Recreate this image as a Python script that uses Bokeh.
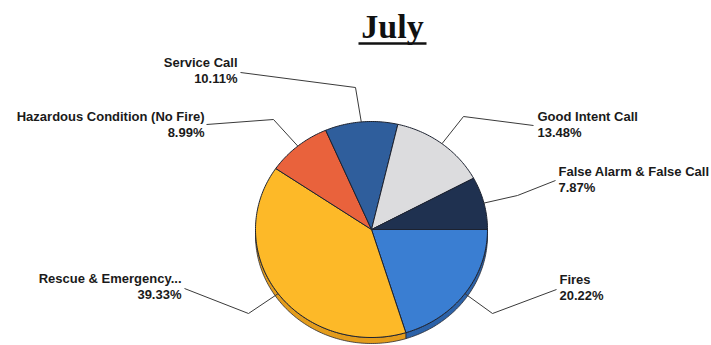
import math
from bokeh.plotting import figure
from bokeh.models import Range1d, ColumnDataSource
from bokeh.core.properties import value
from bokeh.embed import file_html
from bokeh.resources import INLINE

# ---- data ----
title = "July"
categories = ["Fires", "Rescue & Emergency...", "Hazardous Condition (No Fire)",
              "Service Call", "Good Intent Call", "False Alarm & False Call"]
percents = [20.22, 39.33, 8.99, 10.11, 13.48, 7.87]

# ---- styles ----
top_colors = ["#3A7ED2", "#FDB928", "#E9623C", "#2F5E9C", "#DCDCDE", "#1F3150"]
side_colors = ["#2C62A8", "#E39C1C", "#C24A2A", "#24487A", "#AAAAAC", "#152238"]

# ---- layout (screen-like coordinates, y down) ----
CX, CY, RX, RY, DEPTH = 371, 229, 116, 108, 6
# per category: (label anchor x, name y, pct y, align, line start, elbow)
label_layout = [
    (559, 279, 295, "left", (556, 289), (492, 313)),
    (181, 278, 294, "right", (184, 288), (248, 313)),
    (204, 116, 132, "right", (206, 124), (273, 119)),
    (237, 62, 78, "right", (240, 72), (355, 87)),
    (537, 116, 132, "left", (533, 125), (463, 116)),
    (558, 171, 187, "left", (555, 180), (517, 195)),
]

p = figure(width=711, height=345, x_range=Range1d(0, 711), y_range=Range1d(345, 0),
           output_backend="svg", toolbar_location=None, min_border=0)
p.axis.visible = False
p.grid.visible = False
p.outline_line_color = None
p.background_fill_color = "white"
p.border_fill_color = "white"


def arc_pts(a0, a1, dy=0.0, step=1.0):
    n = max(2, int(abs(a1 - a0) / step) + 1)
    xs, ys = [], []
    for i in range(n + 1):
        a = math.radians(a0 + (a1 - a0) * i / n)
        xs.append(CX + RX * math.cos(a))
        ys.append(CY - RY * math.sin(a) + dy)
    return xs, ys


starts, ends = [], []
acc = 0.0
for v in percents:
    starts.append(acc)
    acc -= v / 100.0 * 360.0
    ends.append(acc)

# side (visible lower half only)
side_xs, side_ys, side_cols = [], [], []
for a0, a1, c in zip(starts, ends, side_colors):
    hi = min(a0, 0.0)
    lo = max(a1, -180.0)
    if lo < hi:
        x1, y1 = arc_pts(hi, lo)
        x2, y2 = arc_pts(lo, hi, dy=DEPTH)
        side_xs.append(x1 + x2)
        side_ys.append(y1 + y2)
        side_cols.append(c)
p.patches(side_xs, side_ys, fill_color=side_cols, line_color="#2a2a30", line_width=0.8)

# top faces
top_xs, top_ys = [], []
for a0, a1 in zip(starts, ends):
    xs, ys = arc_pts(a0, a1)
    top_xs.append([CX] + xs)
    top_ys.append([CY] + ys)
p.patches(top_xs, top_ys, fill_color=top_colors, line_color="#1c2230", line_width=1)

# leader lines
lx, ly = [], []
for (a0, a1), lay in zip(zip(starts, ends), label_layout):
    mid = math.radians((a0 + a1) / 2.0)
    ax = CX + RX * math.cos(mid)
    ay = CY - RY * math.sin(mid)
    (sx, sy), (ex, ey) = lay[4], lay[5]
    lx.append([sx, ex, ax])
    ly.append([sy, ey, ay])
p.multi_line(lx, ly, line_color="#3a3a3a", line_width=1)

# labels
tx, ty, tt, ta = [], [], [], []
for cat, v, lay in zip(categories, percents, label_layout):
    x, yn, yp, al = lay[0], lay[1], lay[2], lay[3]
    tx += [x, x]
    ty += [yn, yp]
    tt += [cat, f"{v:.2f}%"]
    ta += [al, al]
src = ColumnDataSource(dict(x=tx, y=ty, text=tt, align=ta))
p.text(x="x", y="y", text="text", text_align="align", source=src,
       text_baseline="middle", text_font=value("Liberation Sans"),
       text_font_style="bold", text_font_size="13px", text_color="#1a1a1a")

# title with underline
p.text(x=[392], y=[26], text=[title], text_align="center", text_baseline="middle",
       text_font=value("Liberation Serif"), text_font_style="bold",
       text_font_size="34px", text_color="#111111")
p.segment(x0=[358], y0=[43], x1=[426], y1=[43], line_color="#111111", line_width=2.5)

open("out.html", "w").write(file_html(p, INLINE))
